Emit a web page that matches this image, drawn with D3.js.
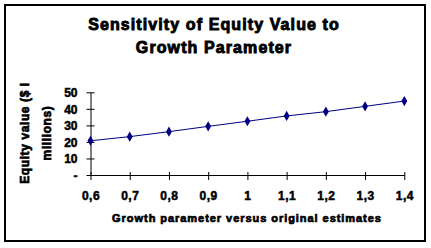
<!DOCTYPE html>
<html>
<head>
<meta charset="utf-8">
<script src="https://cdn.jsdelivr.net/npm/d3@7"></script>
<style>
  body { margin: 0; background: #fff; }
  text { font-family: "Liberation Sans", Arial, sans-serif; font-weight: bold; fill: #000; stroke: #000; stroke-width: 0.5px; }
</style>
</head>
<body>
<div id="chart"></div>
<script>
// growth parameter vs equity value ($ millions)
var growth = [0.6, 0.7, 0.8, 0.9, 1.0, 1.1, 1.2, 1.3, 1.4];
var equity = [20.7, 23.2, 26.2, 29.4, 32.5, 35.7, 38.3, 41.5, 44.7];
var yTicks = [0, 10, 20, 30, 40, 50];
var titleLines = ["Sensitivity of Equity Value to", "Growth Parameter"];
var yTitleLines = ["Equity value ($ l", "millions)"];
var xTitle = "Growth parameter versus original estimates";

var width = 431, height = 248;

var svg = d3.select('#chart').append('svg')
      .attr('width', width)
      .attr('height', height);

// outer frame
svg.append('rect')
      .attr('x', 5).attr('y', 5)
      .attr('width', 420).attr('height', 236)
      .attr('fill', '#fff')
      .attr('stroke', '#000')
      .attr('stroke-width', 2);

// scales
var x = d3.scaleLinear().domain([0.6, 1.4]).range([90.5, 404.3]);
var y = d3.scaleLinear().domain([0, 50]).range([175, 92.3]);

// title
svg.append('text')
      .attr('x', 214).attr('y', 30)
      .attr('text-anchor', 'middle')
      .style('font-size', '16px')
      .style('letter-spacing', '1.1px')
      .style('stroke-width', '0.9px')
      .selectAll('tspan')
      .data(titleLines)
      .enter().append('tspan')
      .attr('x', 214)
      .attr('dy', function (d, i) { return i ? 23 : 0; })
      .text(function (d) { return d; });

// y axis
var yAxis = d3.axisLeft(y)
      .tickValues(yTicks)
      .tickSize(0)
      .tickPadding(0)
      .tickFormat(function (d) { return d === 0 ? '-' : d; });
var gy = svg.append('g')
      .attr('transform', 'translate(' + x(0.6) + ',0)')
      .call(yAxis);
gy.select('.domain').attr('stroke', '#000').attr('stroke-width', 1);
gy.selectAll('.tick line').attr('x1', -4).attr('x2', 4).attr('stroke', '#000');
gy.selectAll('.tick text')
      .attr('x', -13)
      .attr('dy', '0.36em')
      .style('font-size', '12px')
      .style('font-family', '"Liberation Sans", Arial, sans-serif');

// x axis
var xAxis = d3.axisBottom(x)
      .tickValues(growth)
      .tickSize(0)
      .tickFormat(function (d) { return d3.format('~g')(d).replace('.', ','); });
var gx = svg.append('g')
      .attr('transform', 'translate(0,' + y(0) + ')')
      .call(xAxis);
gx.select('.domain').attr('stroke', '#000').attr('stroke-width', 1);
gx.selectAll('.tick line').attr('y1', -3).attr('y2', 5).attr('stroke', '#000');
gx.selectAll('.tick text')
      .attr('y', 25)
      .attr('dy', 0)
      .style('font-size', '12px')
      .style('letter-spacing', '0.5px')
      .style('font-family', '"Liberation Sans", Arial, sans-serif');

// axis titles
svg.append('text')
      .attr('x', 247).attr('y', 221.5)
      .attr('text-anchor', 'middle')
      .style('font-size', '11px')
      .style('letter-spacing', '0.95px')
      .style('stroke-width', '0.7px')
      .text(xTitle);

svg.append('g')
      .attr('transform', 'translate(0,133) rotate(-90)')
      .selectAll('text')
      .data(yTitleLines)
      .enter().append('text')
      .attr('x', 0)
      .attr('y', function (d, i) { return i ? 51 : 28.5; })
      .attr('text-anchor', 'middle')
      .style('font-size', '12px')
      .style('letter-spacing', '0.6px')
      .style('stroke-width', '0.7px')
      .text(function (d) { return d; });

// line + markers
var pts = growth.map(function (g, i) { return { g: g, v: equity[i] }; });
var line = d3.line()
      .x(function (d) { return x(d.g); })
      .y(function (d) { return y(d.v); });
svg.append('path')
      .datum(pts)
      .attr('d', line)
      .attr('fill', 'none')
      .attr('stroke', '#000080')
      .attr('stroke-width', 1);

var diamond = d3.symbol().type(d3.symbolDiamond).size(30);
svg.selectAll('.pt')
      .data(pts)
      .enter().append('path')
      .attr('class', 'pt')
      .attr('d', diamond)
      .attr('transform', function (d) { return 'translate(' + x(d.g) + ',' + y(d.v) + ')'; })
      .attr('fill', '#000080');
</script>
</body>
</html>
